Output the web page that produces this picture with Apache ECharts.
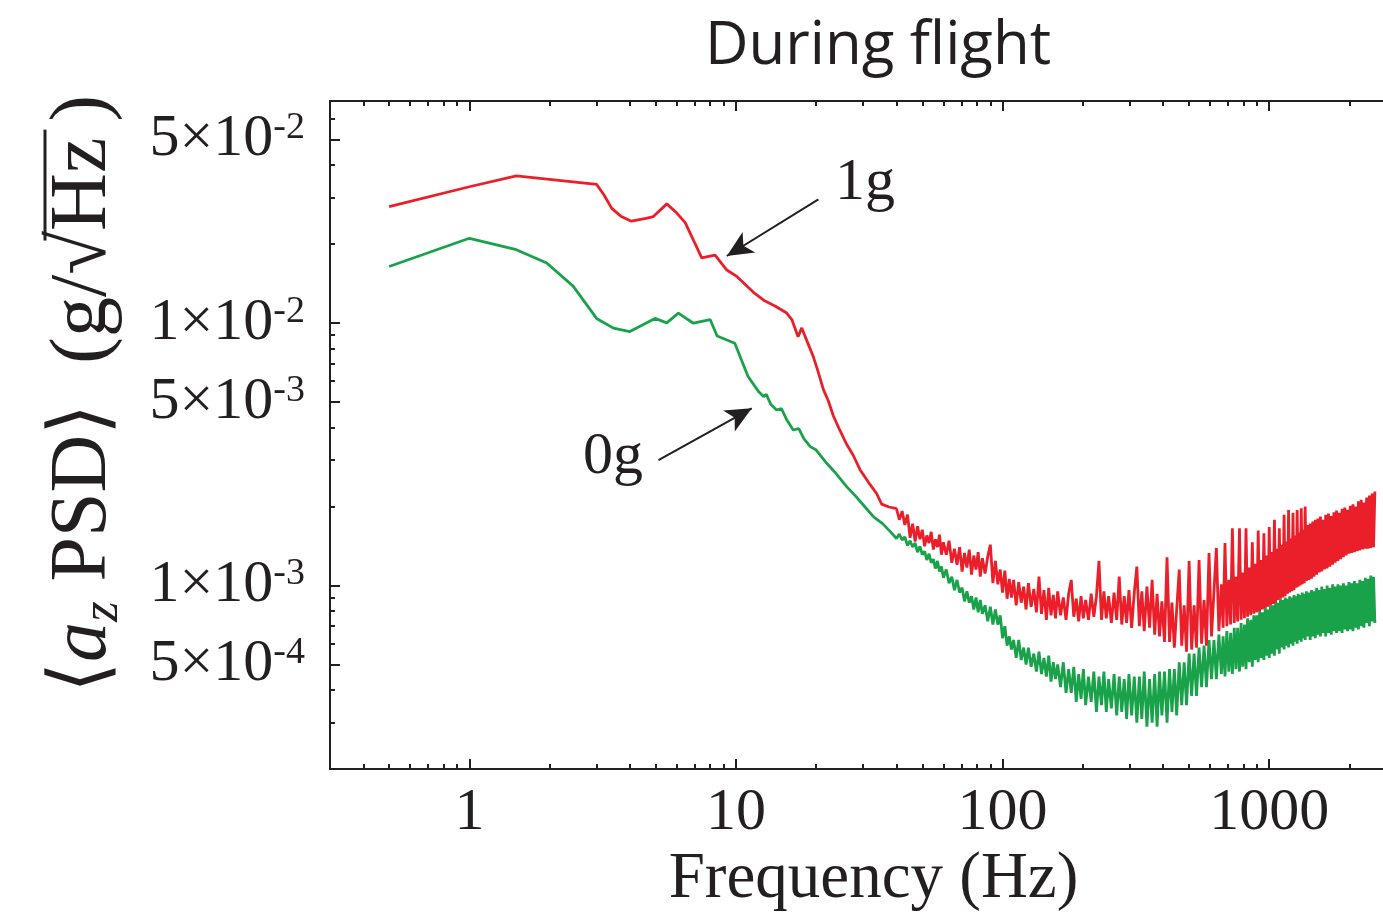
<!DOCTYPE html>
<html><head><meta charset="utf-8">
<script src="https://cdn.jsdelivr.net/npm/echarts@6/dist/echarts.min.js"></script>
<style>html,body{margin:0;padding:0;background:#fff}#c{width:1383px;height:915px}</style>
</head><body><div id="c"></div>
<script>
// ---------- data (frequency in Hz, PSD in g/sqrt(Hz)) ----------
const redSmoothFreq = [0.5,1,1.5,3,3.2,3.42,3.7,4.05,4.6,4.9,5.5,6.0,6.45,7.44,8.35,9.24,10.1,11.6,12.7,14.0,15.5,16.2,17.1,17.65,19.5,20.3,21.3,22.2,23.2,24.5,26.0,27.5,29.2,31.5,33.7,35.2,37.5];
const redSmoothPsd  = [0.0277,0.0330,0.0363,0.0337,0.0307,0.0273,0.0255,0.0244,0.0250,0.0254,0.0284,0.0262,0.0241,0.0177,0.0181,0.0159,0.0150,0.0131,0.0122,0.0116,0.0109,0.0103,0.00886,0.00957,0.00744,0.00655,0.00556,0.00505,0.00442,0.00391,0.00345,0.00314,0.00276,0.00246,0.00224,0.00204,0.00199];
const greenSmoothFreq = [0.5,1,1.5,1.95,2.45,3,3.47,4,4.97,5.5,6.08,6.92,8,8.5,9.9,11.1,12.2,12.7,13.0,13.5,14.2,14.8,15.5,16.4,17.2,18.0,19.0,20.0,21.9,23.5,26.0,28.1,30.5,32.9,35.5,38.0];
const greenSmoothPsd  = [0.0164,0.0210,0.0190,0.0169,0.0138,0.0104,0.00955,0.00927,0.0104,0.0100,0.0109,0.00997,0.0103,0.00892,0.00837,0.00625,0.00545,0.00524,0.00534,0.00490,0.00466,0.00472,0.00428,0.00391,0.00396,0.00362,0.00338,0.00328,0.00292,0.00270,0.00238,0.00219,0.00199,0.00182,0.00172,0.00160];

const noiseFreq = [
40,41,42,43,44,45,46,47,48,49,
50,51,52,53,54,55,56,57,58,59,
60,61.5,63,64.5,66,67.5,69,70.5,72,73.5,
75,76.5,78,79.5,81,82.5,84,86,88,90,
92,94,96,98,100,102,104,106,108,110,
112.5,115,117.5,120,122.5,125,128,131,134,137,
140,143,146,149,152,155,158,161,165,169,
173,177,181,185,189,193,197,201,205,210,
215,220,225,230,235,240,245,250,256,262,
268,274,280,286,292,298,305,312,319,326,
333,340,348,356,364,372,380,388,396,405,
414,423,432,441,450,460,470,480,490,501,
512,523,534,546,558,570,582,595,608,621,
634,648,662,672,683,694,706,717,728,740,
751,762,774,785,796,808,819,830,842,853,
865,876,887,899,910,921,933,944,956,967,
978,990,1001,1012,1024,1035,1047,1058,1069,1081,
1092,1103,1115,1126,1138,1149,1160,1172,1183,1194,
1206,1217,1229,1240,1251,1263,1274,1285,1297,1308,
1320,1331,1342,1354,1365,1380,1395,1410,1426,1442,
1458,1474,1490,1507,1524,1541,1558,1576,1594,1612,
1630,1650,1670,1690,1710,1730,1750,1770,1790,1812,
1834,1856,1878,1900,1923,1946,1969,1992,2016,2040,
2064,2088,2113,2138,2163,2189,2215,2241,2268,2295,
2322,2350,2378,2406,2435,2464,2493];

const redNoisePsd = [
0.00196,0.00178,0.00192,0.00170,0.00186,0.00152,0.00172,0.00147,0.00168,0.00150,
0.00163,0.00141,0.00155,0.00145,0.00160,0.00137,0.00150,0.00140,0.00156,0.00131,
0.00146,0.00131,0.00148,0.00122,0.00138,0.00120,0.00140,0.00113,0.00133,0.00117,
0.00137,0.00110,0.00130,0.00115,0.00134,0.00108,0.00127,0.00111,0.00129,0.00143,
0.00102,0.00124,0.00101,0.00115,0.00094,0.00114,0.00089,0.00106,0.00090,0.00105,
0.00084,0.00103,0.00086,0.00099,0.00081,0.00102,0.00083,0.00097,0.00079,0.00108,
0.00078,0.00096,0.00074,0.00098,0.00077,0.00092,0.00075,0.00095,0.00077,0.00090,
0.00074,0.00093,0.00105,0.00076,0.00089,0.00073,0.00091,0.00075,0.00088,0.00074,
0.00093,0.00076,0.00091,0.00124,0.00074,0.00095,0.00075,0.00091,0.00072,0.00094,
0.00074,0.00108,0.00071,0.00091,0.00072,0.00096,0.00069,0.00094,0.00118,0.00070,
0.00095,0.00067,0.00099,0.00069,0.00105,0.00065,0.00093,0.00064,0.00087,0.00061,
0.00128,0.00061,0.00086,0.00058,0.00081,0.00115,0.00059,0.00084,0.00056,0.00124,
0.00057,0.00084,0.00058,0.00125,0.00060,0.00088,0.00059,0.00133,0.00064,0.00095,
0.00139,0.00067,0.00101,0.00069,0.00145,0.00070,0.00105,0.00071,0.00165,0.00072,
0.00108,0.00073,0.00165,0.00074,0.00112,0.00075,0.00165,0.00076,0.00117,0.00077,
0.00146,0.00078,0.00121,0.00079,0.00162,0.00080,0.00125,0.00081,0.00158,0.00082,
0.00130,0.00083,0.00167,0.00084,0.00134,0.00085,0.00178,0.00086,0.00138,0.00088,
0.00165,0.00089,0.00143,0.00090,0.00186,0.00091,0.00147,0.00093,0.00194,0.00094,
0.00151,0.00095,0.00189,0.00096,0.00155,0.00098,0.00194,0.00099,0.00159,0.00100,
0.00197,0.00101,0.00163,0.00102,0.00200,0.00104,0.00170,0.00105,0.00172,0.00106,
0.00175,0.00108,0.00178,0.00110,0.00180,0.00112,0.00183,0.00113,0.00178,0.00115,
0.00186,0.00116,0.00188,0.00118,0.00184,0.00120,0.00190,0.00122,0.00193,0.00124,
0.00189,0.00126,0.00196,0.00128,0.00198,0.00130,0.00194,0.00132,0.00201,0.00133,
0.00204,0.00134,0.00200,0.00135,0.00209,0.00136,0.00212,0.00137,0.00207,0.00138,
0.00216,0.00138,0.00220,0.00139,0.00224,0.00140,0.00228];

const greenNoisePsd = [
0.00151,0.00157,0.00149,0.00153,0.00142,0.00148,0.00140,0.00145,0.00134,0.00141,
0.00131,0.00135,0.00125,0.00132,0.00122,0.00126,0.00116,0.00124,0.00113,0.00118,
0.00107,0.00115,0.00102,0.00108,0.00096,0.00105,0.00094,0.00098,0.00087,0.00095,
0.00086,0.00091,0.00081,0.00090,0.00079,0.00088,0.00078,0.00084,0.00073,0.00083,
0.00071,0.00081,0.00071,0.00077,0.00063,0.00070,0.00059,0.00064,0.00057,0.00062,
0.00053,0.00062,0.00052,0.00058,0.00050,0.00058,0.00049,0.00055,0.00047,0.00056,
0.00046,0.00053,0.00045,0.00054,0.00043,0.00051,0.00044,0.00050,0.00041,0.00051,
0.00039,0.00048,0.00039,0.00049,0.00036,0.00046,0.00037,0.00048,0.00035,0.00045,
0.00036,0.00047,0.00033,0.00045,0.00035,0.00047,0.00033,0.00044,0.00034,0.00046,
0.00032,0.00045,0.00033,0.00044,0.00031,0.00046,0.00032,0.00045,0.00030,0.00045,
0.00031,0.00047,0.00029,0.00044,0.00030,0.00046,0.00029,0.00047,0.00032,0.00047,
0.00030,0.00048,0.00033,0.00048,0.00032,0.00051,0.00035,0.00051,0.00035,0.00055,
0.00038,0.00055,0.00038,0.00058,0.00041,0.00059,0.00041,0.00062,0.00044,0.00062,
0.00044,0.00065,0.00046,0.00064,0.00045,0.00067,0.00047,0.00066,0.00046,0.00069,
0.00048,0.00069,0.00047,0.00072,0.00049,0.00071,0.00048,0.00075,0.00051,0.00074,
0.00049,0.00077,0.00052,0.00077,0.00051,0.00080,0.00053,0.00079,0.00052,0.00082,
0.00054,0.00081,0.00053,0.00084,0.00055,0.00084,0.00054,0.00087,0.00057,0.00086,
0.00055,0.00089,0.00058,0.00088,0.00057,0.00090,0.00059,0.00089,0.00058,0.00091,
0.00060,0.00090,0.00059,0.00092,0.00061,0.00091,0.00060,0.00093,0.00062,0.00092,
0.00061,0.00094,0.00063,0.00093,0.00062,0.00095,0.00064,0.00094,0.00062,0.00096,
0.00064,0.00095,0.00063,0.00098,0.00065,0.00096,0.00064,0.00099,0.00066,0.00097,
0.00064,0.00100,0.00066,0.00098,0.00065,0.00101,0.00067,0.00099,0.00066,0.00101,
0.00067,0.00100,0.00066,0.00102,0.00068,0.00100,0.00067,0.00103,0.00068,0.00102,
0.00067,0.00104,0.00069,0.00102,0.00068,0.00105,0.00070,0.00104,0.00069,0.00107,
0.00072,0.00106,0.00070,0.00109,0.00073,0.00108,0.00072];

// ticks
const xMajorTicks = [1,10,100,1000];
const xMajorLabels = ['1','10','100','1000'];
const xMinorTicks = [0.4,0.5,0.6,0.7,0.8,0.9,2,3,4,5,6,7,8,9,20,30,40,50,60,70,80,90,200,300,400,500,600,700,800,900,2000];
const yMajorTicks = [5e-4,1e-3,5e-3,1e-2,5e-2];
const yMajorMant = ['5','1','5','1','5'];
const yMajorExp  = ['-4','-3','-3','-2','-2'];
const yMinorTicks = [3e-4,4e-4,6e-4,7e-4,8e-4,9e-4,2e-3,3e-3,4e-3,6e-3,7e-3,8e-3,9e-3,2e-2,3e-2,4e-2,6e-2];

if (noiseFreq.length !== redNoisePsd.length || noiseFreq.length !== greenNoisePsd.length) {
  throw new Error('length mismatch ' + noiseFreq.length + ' ' + redNoisePsd.length + ' ' + greenNoisePsd.length);
}

function zip(f, v) { return f.map((x, i) => [x, v[i]]); }
const redData = zip(redSmoothFreq, redSmoothPsd).concat(zip(noiseFreq, redNoisePsd));
const greenData = zip(greenSmoothFreq, greenSmoothPsd).concat(zip(noiseFreq, greenNoisePsd));

const INK = '#231f20';
const SERIF = '"Liberation Serif", "Times New Roman", serif';
const X_MIN = 0.3, X_MAX = 2674, Y_MIN = 2e-4, Y_MAX = 0.07;

function idxOf(arr, val) {
  for (let i = 0; i < arr.length; i++) {
    if (Math.abs(Math.log10(val) - Math.log10(arr[i])) < 1e-6) return i;
  }
  return -1;
}

function xAx(pos, major, showLine) {
  return {
    type: 'log', logBase: 10, min: X_MIN, max: X_MAX, position: pos, gridIndex: 0,
    axisLine: { show: showLine, onZero: false, lineStyle: { color: INK, width: 2 } },
    axisTick: { show: true, inside: true, length: major ? 10 : 5,
      customValues: major ? xMajorTicks : xMinorTicks, lineStyle: { color: INK, width: 2 } },
    axisLabel: { show: false },
    splitLine: { show: false }, minorTick: { show: false }
  };
}

const xAxes = [
  Object.assign(xAx('bottom', true, true), {
    axisLabel: { show: true, customValues: xMajorTicks, margin: 14,
      formatter: v => { const i = idxOf(xMajorTicks, v); return i >= 0 ? xMajorLabels[i] : ''; },
      fontSize: 60, fontFamily: SERIF, color: INK },
    name: 'Frequency (Hz)', nameLocation: 'middle', nameGap: 75,
    nameTextStyle: { fontSize: 65, fontFamily: SERIF, color: INK, padding: [0, 0, 0, 34] }
  }),
  xAx('bottom', false, false),
  xAx('top', true, true),
  xAx('top', false, false)
];

function yAx(major) {
  return {
    type: 'log', logBase: 10, min: Y_MIN, max: Y_MAX, position: 'left', gridIndex: 0,
    axisLine: { show: major, onZero: false, lineStyle: { color: INK, width: 2 } },
    axisTick: { show: true, inside: true, length: major ? 10 : 5,
      customValues: major ? yMajorTicks : yMinorTicks, lineStyle: { color: INK, width: 2 } },
    axisLabel: major ? {
      show: true, customValues: yMajorTicks, margin: 25,
      formatter: v => { const i = idxOf(yMajorTicks, v); return i >= 0 ? '{a|' + yMajorMant[i] + '×10}{b|' + yMajorExp[i] + '}' : ''; },
      rich: {
        a: { fontSize: 60, fontFamily: SERIF, color: INK, lineHeight: 60 },
        b: { fontSize: 38, fontFamily: SERIF, color: INK, verticalAlign: 'top', lineHeight: 38 }
      }
    } : { show: false },
    splitLine: { show: false }, minorTick: { show: false }
  };
}

// ---------- y axis title (rotated), laid out with measured text ----------
const ctx = document.createElement('canvas').getContext('2d');
function tw(t, f) { ctx.font = f; return ctx.measureText(t).width; }
const FN = '80px ' + SERIF;
const FI = 'italic 80px ' + SERIF;
const FS = 'italic 53px ' + SERIF;
const namePieces = [
  { t: '\u27E8', f: FN, dy: 0 },
  { t: 'a', f: FI, dy: 0 },
  { t: 'z', f: FS, dy: 19 },
  { t: ' PSD\u27E9  (g/', f: FN, dy: 0 },
  { t: '\u221A', f: FN, dy: 0, sq: true },
  { t: 'Hz', f: FN, dy: 0, over: true },
  { t: '\u2009)', f: FN, dy: 0 }
];
let cur = 0;
namePieces.forEach(p => { p.x = cur; p.w = tw(p.t, p.f); cur += p.w; });
const total = cur;
const nameChildren = [];
let sqX = 0, ovEnd = 0;
namePieces.forEach(p => {
  nameChildren.push({ type: 'text', x: p.x - total / 2, y: p.dy,
    style: { text: p.t, font: p.f, fill: INK, align: 'left', verticalAlign: 'middle' } });
  if (p.sq) sqX = p.x - total / 2 + p.w * 0.78;
  if (p.over) ovEnd = p.x - total / 2 + p.w + 8;
});
nameChildren.push({ type: 'line', shape: { x1: sqX, y1: -39, x2: ovEnd, y2: -39 },
  style: { stroke: INK, lineWidth: 3 } });

const ARROW_END = { symbol: 'arrow', symbolSize: [18, 26] };
const chart = echarts.init(document.getElementById('c'), null, { renderer: 'canvas' });
chart.setOption({
  animation: false,
  backgroundColor: '#fff',
  grid: { left: 330, right: 0, top: 101, bottom: 146, containLabel: false, outerBoundsMode: 'none' },
  xAxis: xAxes,
  yAxis: [yAx(true), yAx(false)],
  graphic: [
    { type: 'text', x: 878, y: 47, style: { text: 'During flight', font: '60px "Open Sans"', fill: INK, align: 'center', verticalAlign: 'middle' } },
    { type: 'group', x: 84, y: 394, rotation: Math.PI / 2, children: nameChildren }
  ],
  series: [
    { name: '0g', type: 'line', xAxisIndex: 0, yAxisIndex: 0, data: greenData, showSymbol: false, symbol: 'none',
      lineStyle: { color: '#1aa24b', width: 2.8 }, z: 2 },
    { name: '1g', type: 'line', xAxisIndex: 0, yAxisIndex: 0, data: redData, showSymbol: false, symbol: 'none',
      lineStyle: { color: '#ea1f2a', width: 2.8 }, z: 3,
      markLine: { silent: true, symbol: ['none', 'arrow'],
        itemStyle: { color: INK },
        lineStyle: { color: INK, width: 2, type: 'solid' }, label: { show: false },
        data: [
          [{ coord: [20.38, 0.02956], symbol: 'none' }, Object.assign({ coord: [9.24, 0.01798] }, ARROW_END)],
          [{ coord: [5.12, 0.003005], symbol: 'none' }, Object.assign({ coord: [11.46, 0.004729] }, ARROW_END)]
        ] },
      markPoint: { silent: true, symbol: 'rect', symbolSize: 1, itemStyle: { color: 'rgba(0,0,0,0)' },
        label: { show: true, position: 'inside', formatter: '{b}', fontSize: 60, fontFamily: SERIF, color: INK },
        data: [
          { name: '1g', coord: [30.5, 0.0341] },
          { name: '0g', coord: [3.46, 0.00309] }
        ] }
    }
  ]
});
</script>
</body></html>
